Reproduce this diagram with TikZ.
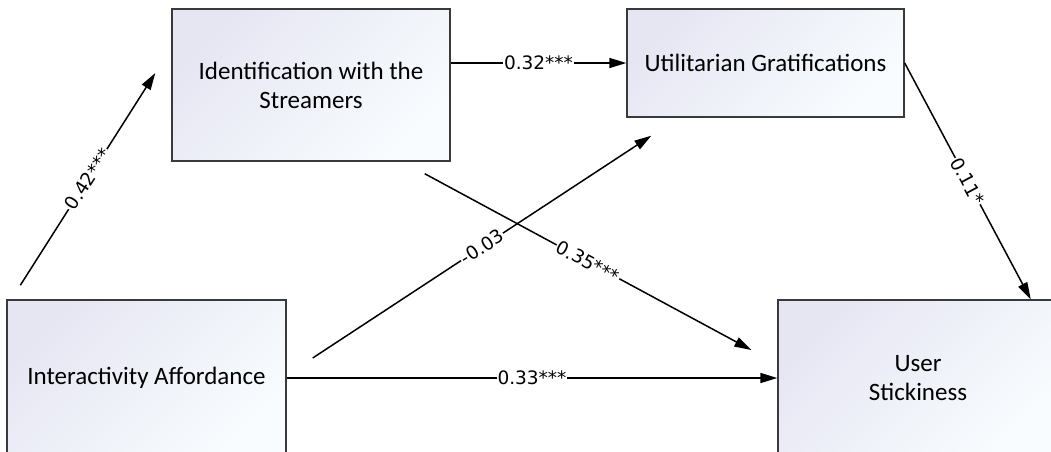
\documentclass[tikz,border=0pt]{standalone}
\usepackage{fontspec}
\setmainfont{Carlito}
\newfontfamily\coeffont{DejaVu Sans}
\usepackage{tikz}
\usetikzlibrary{arrows.meta,calc}
\definecolor{smline}{RGB}{58,58,58}
\definecolor{smlav}{RGB}{230,230,243}
\definecolor{smpale}{RGB}{248,252,254}
\tikzset{
  smBlock/.style={draw=smline, line width=1.4pt, top color=smlav, bottom color=smpale,
                  shading angle=45, align=center, inner sep=0pt,
                  font=\fontsize{25}{29}\selectfont},
  smArrow/.style={-{Triangle[length=17pt,width=10pt]}, line width=1.5pt, draw=black},
  smCoef/.style={midway, sloped, fill=white, inner sep=1pt,
                 font=\coeffont\fontsize{18.5}{20}\selectfont}
}
\begin{document}
\begin{tikzpicture}[x=1pt, y=-1pt]
  \clip (0,0) rectangle (1051,451);
  \fill[white] (0,0) rectangle (1051,451);
  \node[smBlock, minimum width=278pt, minimum height=152pt] (idf) at (311,85) {Identification with the\\Streamers};
  \node[smBlock, minimum width=277pt, minimum height=108pt] (ug) at (765.5,63) {Utilitarian Gratifications};
  \node[smBlock, minimum width=279pt, minimum height=156pt] (ia) at (146.5,378) {Interactivity Affordance};
  \node[smBlock, minimum width=280pt, minimum height=156pt] (us) at (918,378) {User\\Stickiness};
  \coordinate (iaUp) at ([xshift=14pt, yshift=14pt]ia.north west);
  \coordinate (idfIn) at ([xshift=-16pt, yshift=12pt]idf.west);
  \coordinate (iaOut) at ([xshift=26pt, yshift=20pt]ia.east);
  \coordinate (ugIn) at ([xshift=25pt, yshift=-18pt]ug.south west);
  \coordinate (idfOut) at ([xshift=-26pt, yshift=-12pt]idf.south east);
  \coordinate (usIn) at ([xshift=-26pt, yshift=28pt]us.west);
  \coordinate (usTop) at ([xshift=-28pt]us.north east);
  \draw[smArrow] (iaUp) -- node[smCoef] {0.42***} (idfIn);
  \draw[smArrow] (idf.east |- ug.west) -- node[smCoef] {0.32***} (ug.west);
  \draw[smArrow] (ug.east) -- node[smCoef] {0.11*} (usTop);
  \draw[smArrow] (iaOut) -- node[smCoef] {-0.03} (ugIn);
  \draw[smArrow] (idfOut) -- node[smCoef] {0.35***} (usIn);
  \draw[smArrow] (ia.east) -- node[smCoef] {0.33***} (us.west);
\end{tikzpicture}
\end{document}
